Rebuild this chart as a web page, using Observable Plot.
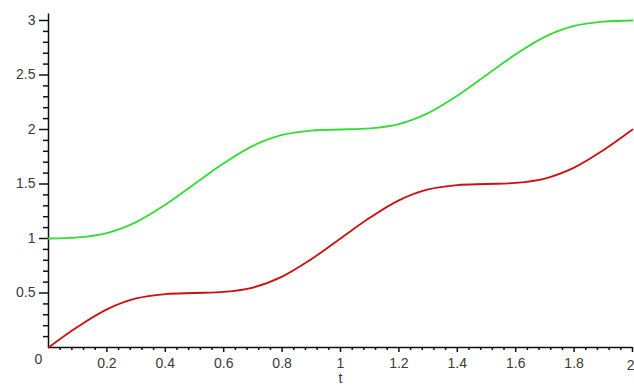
<!DOCTYPE html>
<html>
<head>
<meta charset="utf-8">
<script src="https://cdn.jsdelivr.net/npm/d3@7"></script>
<script src="https://cdn.jsdelivr.net/npm/@observablehq/plot@0.6"></script>
<style>
  html, body { margin: 0; padding: 0; background: #fff; overflow: hidden; width: 634px; height: 387px; }
  #chart svg { display: block; }
</style>
</head>
<body>
<div id="chart"></div>
<script>
const tValues = [0, 0.1, 0.2, 0.3, 0.4, 0.5, 0.6, 0.7, 0.8, 0.9, 1.0, 1.1, 1.2, 1.3, 1.4, 1.5, 1.6, 1.7, 1.8, 1.9, 2.0];
const redValues = [0, 0.19, 0.35, 0.45, 0.49, 0.50, 0.51, 0.55, 0.65, 0.81, 1.00, 1.19, 1.35, 1.45, 1.49, 1.50, 1.51, 1.55, 1.65, 1.81, 2.00];
const greenValues = [1.00, 1.01, 1.05, 1.15, 1.31, 1.50, 1.69, 1.85, 1.95, 1.99, 2.00, 2.01, 2.05, 2.15, 2.31, 2.50, 2.69, 2.85, 2.95, 2.99, 3.00];
const xTickLabels = [0.2, 0.4, 0.6, 0.8, 1, 1.2, 1.4, 1.6, 1.8, 2];
const yTickLabels = [0.5, 1, 1.5, 2, 2.5, 3];
const xMinor = d3.range(0, 2.001, 0.04).map(v => +v.toFixed(2)).filter(v => Math.abs(v / 0.2 - Math.round(v / 0.2)) > 1e-6);
const yMinor = d3.range(0, 3.001, 0.1).map(v => +v.toFixed(1)).filter(v => Math.abs(v / 0.5 - Math.round(v / 0.5)) > 1e-6);

const red = tValues.map((t, i) => ({t, v: redValues[i]}));
const green = tValues.map((t, i) => ({t, v: greenValues[i]}));

const font = "'Liberation Sans', Arial, sans-serif";
const fmt = d => String(d);
const textColor = "#3a3a3a";
const lastX = xTickLabels[xTickLabels.length - 1];

const chart = Plot.plot({
  width: 634,
  height: 387,
  marginLeft: 48,
  marginRight: 2,
  marginTop: 20,
  marginBottom: 40,
  style: {fontFamily: font, fontSize: "14px", color: textColor, overflow: "visible"},
  x: {domain: [0, 2]},
  y: {domain: [0, 3]},
  marks: [
    Plot.axisY({ticks: yMinor, tickSize: 5, text: null, stroke: "#111", strokeWidth: 1.5, label: null}),
    Plot.axisY({ticks: yTickLabels, tickSize: 9, tickPadding: 4, tickFormat: fmt, stroke: "#111", strokeWidth: 1.5, label: null, fill: textColor, fontSize: 14}),
    Plot.axisX({ticks: xMinor, tickSize: 3, text: null, stroke: "#111", strokeWidth: 1.5, label: null}),
    Plot.axisX({ticks: xTickLabels, tickSize: 5, tickPadding: 6, tickFormat: d => d === lastX ? "" : fmt(d), stroke: "#111", strokeWidth: 1.5, label: null, fill: textColor, fontSize: 14}),
    Plot.text([{x: lastX, y: 0, label: fmt(lastX)}], {x: "x", y: "y", text: "label", textAnchor: "end", dx: 2, dy: 18, fill: textColor, fontSize: 14}),
    Plot.ruleY([0], {stroke: "#111", strokeWidth: 1.5}),
    Plot.ruleX([0], {y1: 0, y2: 3.06, stroke: "#111", strokeWidth: 1.5, clip: false}),
    Plot.text([{x: 0, y: 0, label: "0"}], {x: "x", y: "y", text: "label", dx: -10, dy: 12, fill: textColor, fontSize: 14}),
    Plot.text([{x: 1, y: 0, label: "t"}], {x: "x", y: "y", text: "label", dy: 31, fill: textColor, fontSize: 14}),
    Plot.line(green, {x: "t", y: "v", stroke: "#33dd33", strokeWidth: 1.8, curve: "catmull-rom"}),
    Plot.line(red, {x: "t", y: "v", stroke: "#cc1010", strokeWidth: 1.8, curve: "catmull-rom"})
  ]
});
document.getElementById("chart").appendChild(chart);
</script>
</body>
</html>
